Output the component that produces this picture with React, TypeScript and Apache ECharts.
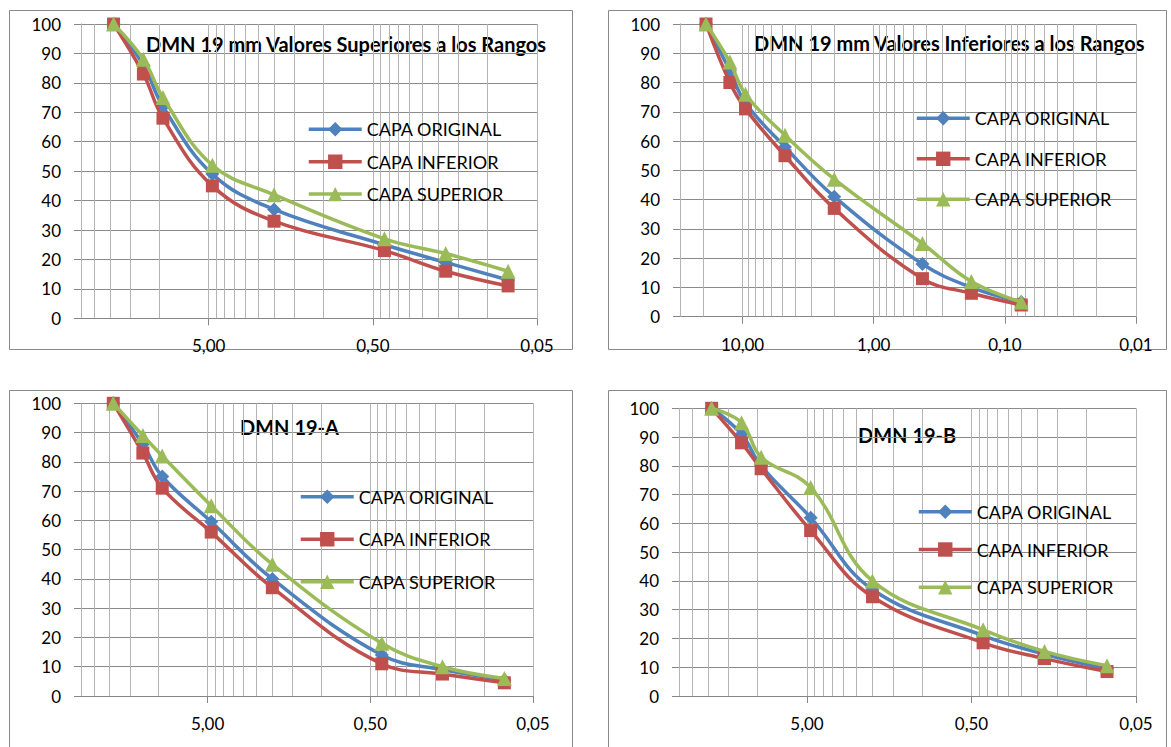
import React, { useEffect, useRef } from "react";
import * as echarts from "echarts";

const FONT = "Lato, 'Liberation Sans', sans-serif";

const SERIES_NAMES = ["CAPA ORIGINAL", "CAPA INFERIOR", "CAPA SUPERIOR"];
const SERIES_COLORS = ["#4F81BD", "#C0504D", "#9BBB59"];
const SERIES_SYMBOLS = ["diamond", "rect", "triangle"];
const SERIES_SYMBOL_SIZES = [14, 13, 15];

// sieve openings (mm)
const SIEVES = [19, 12.5, 9.5, 4.75, 2.0, 0.425, 0.18, 0.075];

// % passing — DMN 19 mm Valores Superiores a los Rangos
const TL_ORIGINAL = [100, 86, 72, 49, 37, 25, 19, 13];
const TL_INFERIOR = [100, 83, 68, 45, 33, 23, 16, 11];
const TL_SUPERIOR = [100, 88, 75, 52, 42, 27, 22, 16];

// % passing — DMN 19 mm Valores Inferiores a los Rangos
const TR_ORIGINAL = [100, 84, 73, 58, 41, 18, 10, 5];
const TR_INFERIOR = [100, 80, 71, 55, 37, 13, 8, 4];
const TR_SUPERIOR = [100, 87, 76, 62, 47, 25, 12, 5];

// % passing — DMN 19-A
const BL_ORIGINAL = [100, 86, 75, 59.5, 40, 14, 9, 5.5];
const BL_INFERIOR = [100, 83, 71, 56, 37, 11, 7.5, 4.5];
const BL_SUPERIOR = [100, 89, 82, 65, 45, 18, 10, 6];

// % passing — DMN 19-B
const BR_ORIGINAL = [100, 91, 80, 62, 37, 21, 14.5, 9.5];
const BR_INFERIOR = [100, 88, 79, 57.5, 34.5, 18.5, 13, 8.5];
const BR_SUPERIOR = [100, 95, 83, 72.5, 40, 23, 15.5, 10.5];

const PANEL_TITLES = [
  "DMN 19 mm Valores Superiores a los Rangos",
  "DMN 19 mm Valores Inferiores a los Rangos",
  "DMN 19-A",
  "DMN 19-B",
];
const PANEL_VALUES = [
  [TL_ORIGINAL, TL_INFERIOR, TL_SUPERIOR],
  [TR_ORIGINAL, TR_INFERIOR, TR_SUPERIOR],
  [BL_ORIGINAL, BL_INFERIOR, BL_SUPERIOR],
  [BR_ORIGINAL, BR_INFERIOR, BR_SUPERIOR],
];

// x-axis tick labels
const X_LABELS_A = [0.05, 0.5, 5];
const X_LABELS_B = [0.01, 0.1, 1, 10];
// vertical (log) gridlines
const X_GRID_A = [
  0.05, 0.1, 0.15, 0.2, 0.25, 0.3, 0.35, 0.4, 0.45,
  0.5, 1, 1.5, 2, 2.5, 3, 3.5, 4, 4.5,
  5, 10, 15, 20, 25, 30,
];
const X_GRID_B = [
  0.01, 0.02, 0.03, 0.04, 0.05, 0.06, 0.07, 0.08, 0.09,
  0.1, 0.2, 0.3, 0.4, 0.5, 0.6, 0.7, 0.8, 0.9,
  1, 2, 3, 4, 5, 6, 7, 8, 9,
  10, 20, 30,
];
const X_MIN = [0.05, 0.01, 0.05, 0.05];
const X_MAX = 30;
const X_LABELS = [X_LABELS_A, X_LABELS_B, X_LABELS_A, X_LABELS_A];
const X_GRIDS = [X_GRID_A, X_GRID_B, X_GRID_A, X_GRID_A];
const Y_MIN = 0;
const Y_MAX = 100;
const Y_STEP = 10;

// layout (pixels)
const PANELS = [
  { box: [9.5, 10.5, 563, 339], grid: [81, 24, 456, 294.3], title: [146, 43.5], legend: [307, 119.3, 12.4] },
  { box: [608.5, 10.5, 558, 339], grid: [680, 24, 456, 292.7], title: [754, 42.5], legend: [915, 108.3, 20.5] },
  { box: [9.5, 390.5, 563, 400], grid: [81, 403.3, 452, 292.7], title: [240, 426.7], legend: [299, 486.7, 22.5] },
  { box: [608.5, 390.5, 558, 400], grid: [679, 408.3, 457, 287.7], title: [858, 435], legend: [917, 501.7, 17.8] },
];

const fmtComma = (v: number) => Number(v).toFixed(2).replace(".", ",");

export default function App() {
  const ref = useRef<HTMLDivElement>(null);

  useEffect(() => {
    if (!ref.current) return;
    const chart = echarts.init(ref.current, null, { renderer: "svg" });

    const grids: any[] = [];
    const xAxes: any[] = [];
    const yAxes: any[] = [];
    const series: any[] = [];
    const legends: any[] = [];
    const graphics: any[] = [];

    PANELS.forEach((p, i) => {
      const [gl, gt, gw, gh] = p.grid;
      grids.push({ left: gl, top: gt, width: gw, height: gh, containLabel: false, outerBoundsMode: "none" });
      xAxes.push({
        type: "log",
        logBase: 10,
        gridIndex: i,
        min: X_MIN[i],
        max: X_MAX,
        inverse: true,
        axisLine: { show: true, onZero: false, lineStyle: { color: "#868686", width: 1 } },
        axisTick: { show: true, customValues: X_LABELS[i], length: 7, inside: false, lineStyle: { color: "#868686" } },
        axisLabel: {
          show: true,
          customValues: X_LABELS[i],
          formatter: (v: number) => fmtComma(v),
          margin: 19,
          fontFamily: FONT,
          fontSize: 17,
          color: "#000",
        },
        splitLine: { show: false },
        minorTick: { show: false },
        minorSplitLine: { show: false },
      });
      yAxes.push({
        type: "value",
        gridIndex: i,
        min: Y_MIN,
        max: Y_MAX,
        interval: Y_STEP,
        axisLine: { show: true, lineStyle: { color: "#868686", width: 1 } },
        axisTick: { show: true, length: 7, inside: false, lineStyle: { color: "#868686" } },
        axisLabel: { margin: 20, fontFamily: FONT, fontSize: 17, color: "#000" },
        splitLine: { show: true, lineStyle: { color: "#8a8a8a", width: 1 } },
      });
      PANEL_VALUES[i].forEach((vals, j) => {
        const s: any = {
          type: "line",
          name: SERIES_NAMES[j],
          xAxisIndex: i,
          yAxisIndex: i,
          data: SIEVES.map((d, k) => [d, vals[k]]),
          smooth: 0.4,
          symbol: SERIES_SYMBOLS[j],
          symbolSize: SERIES_SYMBOL_SIZES[j],
          showAllSymbol: true,
          lineStyle: { width: 3.5, color: SERIES_COLORS[j] },
          itemStyle: { color: SERIES_COLORS[j] },
          emphasis: { disabled: true },
          z: 2 + j,
        };
        if (j === 0) {
          s.markLine = {
            silent: true,
            z: 1,
            symbol: ["none", "none"],
            label: { show: false },
            emphasis: { disabled: true },
            lineStyle: { color: "#b4b4b4", width: 1, type: "solid" },
            data: X_GRIDS[i].map((v) => ({ xAxis: v })),
          };
        }
        series.push(s);
      });
      const [ll, lt, lg] = p.legend;
      legends.push({
        orient: "vertical",
        left: ll,
        top: lt,
        padding: 0,
        itemWidth: 53,
        itemHeight: 18,
        itemGap: lg,
        selectedMode: false,
        lineStyle: { width: 3.5 },
        textStyle: { fontFamily: FONT, fontSize: 18, color: "#000", lineHeight: 20 },
        data: SERIES_NAMES,
      });
      const [bx, by, bw, bh] = p.box;
      graphics.push({
        type: "rect",
        silent: true,
        shape: { x: bx, y: by, width: bw, height: bh },
        style: { fill: "none", stroke: "#898989", lineWidth: 1 },
      });
      graphics.push({
        type: "text",
        silent: true,
        x: p.title[0],
        y: p.title[1],
        style: {
          text: PANEL_TITLES[i],
          fontFamily: FONT,
          fontSize: 20,
          fontWeight: "bold",
          fill: "#000",
          verticalAlign: "middle",
        },
      });
    });

    chart.setOption({
      animation: false,
      backgroundColor: "#ffffff",
      textStyle: { fontFamily: FONT },
      grid: grids,
      xAxis: xAxes,
      yAxis: yAxes,
      legend: legends,
      series,
      graphic: { elements: graphics },
    });

    return () => chart.dispose();
  }, []);

  return (
    <div style={{ position: "absolute", left: 0, top: 0, width: 1171, height: 747, background: "#fff" }}>
      <div ref={ref} style={{ width: 1171, height: 747 }} />
    </div>
  );
}
